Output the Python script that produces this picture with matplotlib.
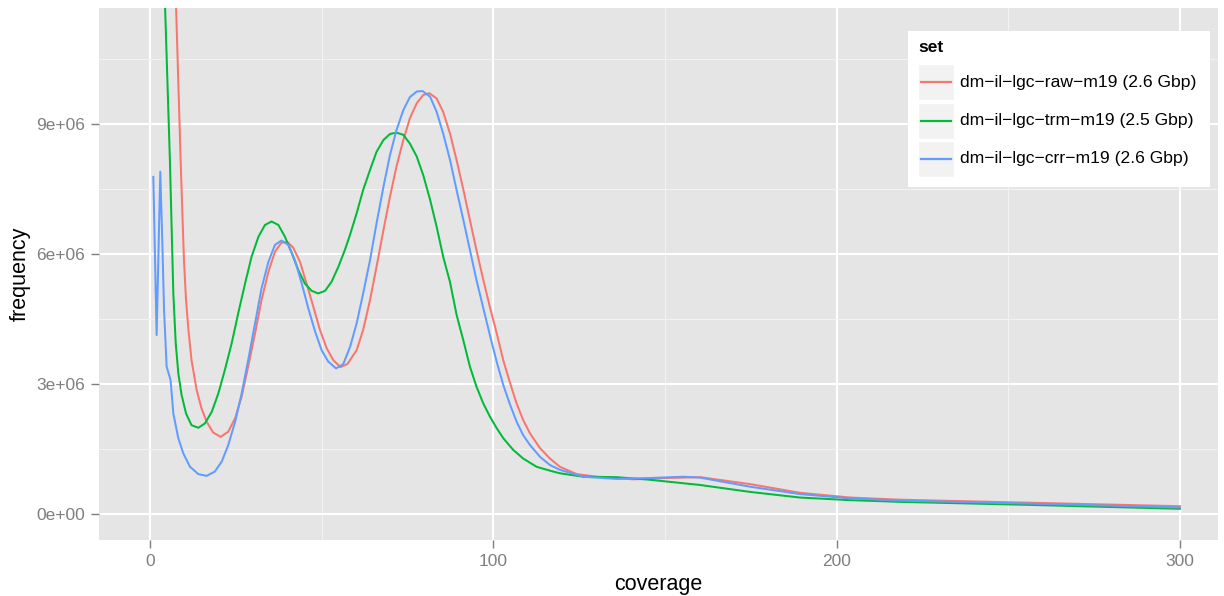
import matplotlib

matplotlib.use("Agg")
import matplotlib.pyplot as plt
from matplotlib.lines import Line2D
from matplotlib.patches import Rectangle
from matplotlib.ticker import FixedLocator, FuncFormatter

plt.rcParams["font.family"] = ["Liberation Sans", "DejaVu Sans"]

W, H = 1224, 596
PANEL_BG, MINOR, TICK = "#E5E5E5", "#F2F2F2", "#7F7F7F"

labels = ["dm\u2212il\u2212lgc\u2212raw\u2212m19 (2.6 Gbp)",
          "dm\u2212il\u2212lgc\u2212trm\u2212m19 (2.5 Gbp)",
          "dm\u2212il\u2212lgc\u2212crr\u2212m19 (2.6 Gbp)"]
colors = ["#F8766D", "#00BA38", "#619CFF"]

# k-mer coverage histograms (frequency in millions)
raw_x = [6, 7, 7.6, 8.93, 9.4, 9.9, 10.5, 11.2, 12.1, 13.6, 15.0, 16.5, 18.4,
         20.6, 22.8, 24.8, 26.7, 28.6, 30.6, 32.5, 34.5, 36.4, 38.3, 40.0,
         41.7, 43.7, 45.6, 47.6, 49.5, 51.5, 53.4, 55.5, 57.5, 60.2, 62.1,
         64.1, 66.0, 68.0, 69.9, 71.8, 73.8, 75.7, 77.7, 79.6, 81.4, 83.5,
         85.4, 87.4, 89.3, 91.3, 93.2, 95.1, 97.1, 99.0, 101.0, 102.9, 104.9,
         106.8, 108.7, 110.7, 113.6, 116.5, 119.4, 124.3, 131.1, 140.8, 150.5,
         160.2, 174.8, 189.3, 203.9, 218.5, 256.3, 300]
raw_y = [17, 13.5, 11.7, 8.17, 7.02, 5.86, 4.94, 4.25, 3.55, 2.86, 2.44, 2.13,
         1.88, 1.78, 1.9, 2.21, 2.71, 3.4, 4.17, 4.94, 5.59, 6.05, 6.26, 6.28,
         6.15, 5.82, 5.32, 4.78, 4.25, 3.82, 3.55, 3.39, 3.46, 3.78, 4.25,
         4.94, 5.71, 6.55, 7.32, 8.02, 8.63, 9.13, 9.48, 9.67, 9.71, 9.59,
         9.28, 8.78, 8.17, 7.48, 6.78, 6.09, 5.4, 4.78, 4.17, 3.55, 3.02,
         2.55, 2.17, 1.86, 1.52, 1.28, 1.09, 0.92, 0.85, 0.8, 0.83,
         0.85, 0.69, 0.49, 0.38, 0.33, 0.26, 0.18]

trm_x = [3, 4, 4.4, 5.8, 6.3, 6.8, 7.5, 8.25, 9.2, 10.5, 12.1, 14.1, 16.0, 18.0,
         19.9, 21.8, 23.8, 25.7, 27.7, 29.6, 31.6, 33.5, 35.4, 37.4, 39.3, 41.3,
         43.2, 45.1, 47.1, 49.0, 51.0, 52.9, 54.9, 56.8, 58.3, 60.2, 62.1, 64.1,
         66.0, 68.0, 69.9, 71.8, 73.8, 75.7, 77.7, 79.6, 81.6, 83.5, 85.4, 87.4,
         89.3, 91.3, 93.2, 95.1, 97.1, 99.0, 101.0, 102.9, 105.8, 108.7, 112.6,
         116.5, 119.4, 126.2, 135.9, 145.6, 160.2, 174.8, 189.3, 203.9, 218.5,
         256.3, 300]
trm_y = [17, 13, 11.7, 8.17, 6.63, 5.09, 3.94, 3.25, 2.75, 2.32, 2.05, 1.99,
         2.09, 2.36, 2.78, 3.32, 3.94, 4.63, 5.32, 5.94, 6.4, 6.67, 6.75, 6.67,
         6.4, 6.02, 5.63, 5.32, 5.15, 5.09, 5.15, 5.36, 5.71, 6.1, 6.45, 6.94,
         7.48, 7.94, 8.36, 8.63, 8.77, 8.8, 8.75, 8.55, 8.25, 7.82, 7.25, 6.63,
         5.94, 5.35, 4.6, 4.0, 3.4, 2.94, 2.55, 2.25, 1.98, 1.75, 1.48, 1.28,
         1.09, 1.0, 0.94, 0.86, 0.85, 0.79, 0.67, 0.51, 0.38, 0.32, 0.28,
         0.21, 0.12]

crr_x = [0.97, 1.94, 3.0, 3.6, 4.1, 4.85, 6.0, 6.8, 8.25, 9.7, 11.65, 14.1,
         16.5, 18.9, 20.9, 22.8, 24.8, 26.7, 28.6, 30.6, 32.5, 34.5, 36.4, 38.3,
         40.3, 42.2, 44.2, 46.1, 48.1, 50.0, 51.9, 54.2, 56.3, 58.3, 60.2, 62.1,
         64.1, 66.0, 68.0, 69.9, 71.8, 73.8, 75.7, 77.7, 79.4, 81.6, 83.5, 85.4,
         87.4, 89.3, 91.3, 93.2, 95.1, 97.1, 99.0, 101.0, 102.9, 104.9, 106.8,
         108.7, 110.7, 113.6, 116.5, 119.4, 126.2, 135.9, 145.6, 155.3, 160.2,
         174.8, 189.3, 203.9, 218.5, 256.3, 300]
crr_y = [7.78, 4.13, 7.9, 6.25, 4.71, 3.4, 3.09, 2.32, 1.75, 1.4, 1.09, 0.92,
         0.88, 0.98, 1.21, 1.59, 2.13, 2.78, 3.55, 4.4, 5.21, 5.82, 6.21, 6.31,
         6.21, 5.86, 5.32, 4.75, 4.21, 3.78, 3.52, 3.36, 3.46, 3.86, 4.4, 5.09,
         5.86, 6.71, 7.55, 8.28, 8.86, 9.32, 9.62, 9.75, 9.76, 9.63, 9.28, 8.78,
         8.17, 7.48, 6.78, 6.09, 5.4, 4.75, 4.13, 3.51, 2.98, 2.52, 2.13,
         1.82, 1.59, 1.32, 1.13, 1.02, 0.86, 0.81, 0.83, 0.86, 0.84,
         0.63, 0.46, 0.36, 0.31, 0.24, 0.15]

series = [(raw_x, raw_y), (trm_x, trm_y), (crr_x, crr_y)]


def fx(px):
    return px / W


def fy(py):
    return 1 - py / H


fig = plt.figure(figsize=(W / 100, H / 100), dpi=100)
ax = fig.add_axes([fx(99), fy(540), fx(1218) - fx(99), fy(8) - fy(540)])
ax.set_facecolor(PANEL_BG)

for (xs, ys), c in zip(series, colors):
    ax.plot(xs, [v * 1e6 for v in ys], color=c, lw=1.45, zorder=3,
            solid_joinstyle="round")

ax.set_xlim(-14.85, 311.1)
ax.set_ylim(-0.6e6, 11.677e6)

ax.xaxis.set_major_locator(FixedLocator([0, 100, 200, 300]))
ax.xaxis.set_minor_locator(FixedLocator([50, 150, 250]))
ax.yaxis.set_major_locator(FixedLocator([0, 3e6, 6e6, 9e6]))
ax.yaxis.set_minor_locator(FixedLocator([1.5e6, 4.5e6, 7.5e6, 10.5e6]))
ax.yaxis.set_major_formatter(FuncFormatter(lambda v, _: f"{v:.0e}"))

ax.grid(which="major", color="white", lw=1.5, zorder=1)
ax.grid(which="minor", color=MINOR, lw=0.8, zorder=0.9)
ax.set_axisbelow(True)
for s in ax.spines.values():
    s.set_visible(False)
ax.tick_params(which="major", length=6, width=1.0, color=TICK,
               labelcolor=TICK, labelsize=12.5, pad=4)
ax.tick_params(which="minor", length=0)

ax.set_xlabel("coverage", fontsize=15.5, labelpad=3.5)
ax.set_ylabel("frequency", fontsize=15.5, labelpad=4)

# legend box drawn in figure pixels
fig.patches.append(Rectangle((fx(908), fy(187)), fx(1210) - fx(908),
                             fy(31) - fy(187), transform=fig.transFigure,
                             facecolor="white", edgecolor="none", zorder=5))
fig.text(fx(918), fy(47), "set", fontsize=12.5, fontweight="bold",
         va="center", ha="left", zorder=6)
row_tops = [64, 102.5, 141]
for top, lab, c in zip(row_tops, labels, colors):
    fig.patches.append(Rectangle((fx(918), fy(top + 36)), fx(36), 36 / H,
                                 transform=fig.transFigure, facecolor=MINOR,
                                 edgecolor="white", lw=1.0, zorder=6))
    fig.lines.append(Line2D([fx(921), fx(951)], [fy(top + 18)] * 2,
                            transform=fig.transFigure, color=c, lw=1.6,
                            zorder=7))
    fig.text(fx(960), fy(top + 18), lab, fontsize=12.6, va="center",
             ha="left", zorder=7)

fig.savefig("out.png", dpi=100)
